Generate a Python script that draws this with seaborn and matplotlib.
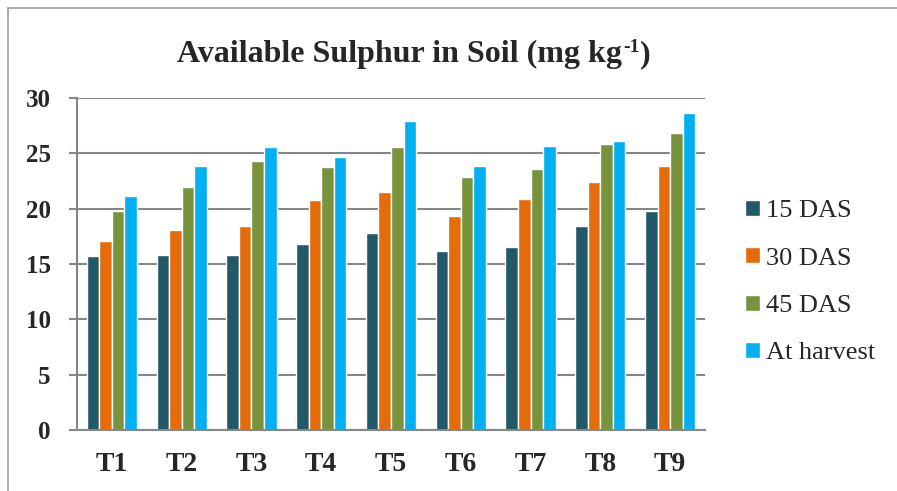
import matplotlib
matplotlib.use('Agg')
import matplotlib.pyplot as plt
from matplotlib.lines import Line2D
import pandas as pd
import seaborn as sns

treatments = ['T1', 'T2', 'T3', 'T4', 'T5', 'T6', 'T7', 'T8', 'T9']
das15 = [15.7, 15.8, 15.8, 16.8, 17.8, 16.2, 16.5, 18.4, 19.8]
das30 = [17.1, 18.1, 18.4, 20.8, 21.5, 19.3, 20.9, 22.4, 23.9]
das45 = [19.8, 22.0, 24.3, 23.8, 25.6, 22.9, 23.6, 25.8, 26.8]
harvest = [21.1, 23.9, 25.6, 24.7, 27.9, 23.9, 25.7, 26.1, 28.6]
series = ['15 DAS', '30 DAS', '45 DAS', 'At harvest']
colors = ['#215968', '#E46C0A', '#77933C', '#00B0F0']

rows = []
for name, vals in zip(series, [das15, das30, das45, harvest]):
    for t, v in zip(treatments, vals):
        rows.append({'Treatment': t, 'Stage': name, 'Value': v})
df = pd.DataFrame(rows)

sns.set_style('white')
plt.rcParams['font.family'] = ['Liberation Serif', 'DejaVu Serif']

W, H = 897, 491
fig = plt.figure(figsize=(W / 100, H / 100), dpi=100)
ax = fig.add_axes([77 / W, 1 - 430 / H, (705 - 77) / W, (430 - 98) / H])

grid_c = '#868686'
ax.set_axisbelow(True)
ax.yaxis.grid(True, color=grid_c, linewidth=1.5)

sns.barplot(data=df, x='Treatment', y='Value', hue='Stage', palette=colors,
            width=0.72, gap=0, ax=ax, saturation=1, legend=True)

ax.set_ylim(0, 30)
ax.set_xlim(-0.5, 8.5)
ax.set_yticks(range(0, 31, 5))
ax.set_xticks(range(9))
ax.set_xticklabels(treatments)
ax.set_xticks([i - 0.5 for i in range(10)], minor=True)
ax.tick_params(axis='x', which='major', length=0, pad=16, labelsize=20)
ax.tick_params(axis='x', which='minor', length=6, width=1.5, color=grid_c, direction='out')
ax.tick_params(axis='y', length=6, width=1.5, color=grid_c, direction='out', pad=13, labelsize=18)
ax.tick_params(axis='both', bottom=True, left=True)
for lab in ax.get_xticklabels() + ax.get_yticklabels():
    lab.set_fontweight('bold')
ax.set_xlabel('')
ax.set_ylabel('')
for s in ['top', 'right']:
    ax.spines[s].set_visible(False)
for s in ['left', 'bottom']:
    ax.spines[s].set_color(grid_c)
    ax.spines[s].set_linewidth(1.5)

leg = ax.legend(loc='center left', bbox_to_anchor=(1.026, 0.445), frameon=False,
                fontsize=19, handlelength=0.55, handleheight=0.55,
                handletextpad=0.25, labelspacing=0.95)

# title with superscript, built from pieces
fig.canvas.draw()
r = fig.canvas.get_renderer()
x0, ybase = 177, H - 62
t1 = fig.text(x0 / W, ybase / H, 'Available Sulphur in Soil (mg kg', ha='left',
              va='baseline', fontsize=23, fontweight='bold')
w1 = t1.get_window_extent(r).width
t2 = fig.text((x0 + w1 + 1) / W, (ybase + 10) / H, '-1', ha='left', va='baseline',
              fontsize=14, fontweight='bold')
w2 = t2.get_window_extent(r).width
fig.text((x0 + w1 + w2 + 2) / W, ybase / H, ')', ha='left', va='baseline',
         fontsize=23, fontweight='bold')

# outer chart border (left and top edges visible)
fig.add_artist(Line2D([8 / W, 8 / W], [0, 1 - 8 / H], transform=fig.transFigure,
                      color='#A0A0A0', linewidth=1.2))
fig.add_artist(Line2D([8 / W, 1], [1 - 8 / H, 1 - 8 / H], transform=fig.transFigure,
                      color='#A0A0A0', linewidth=1.2))

fig.savefig('out.png', dpi=100)
